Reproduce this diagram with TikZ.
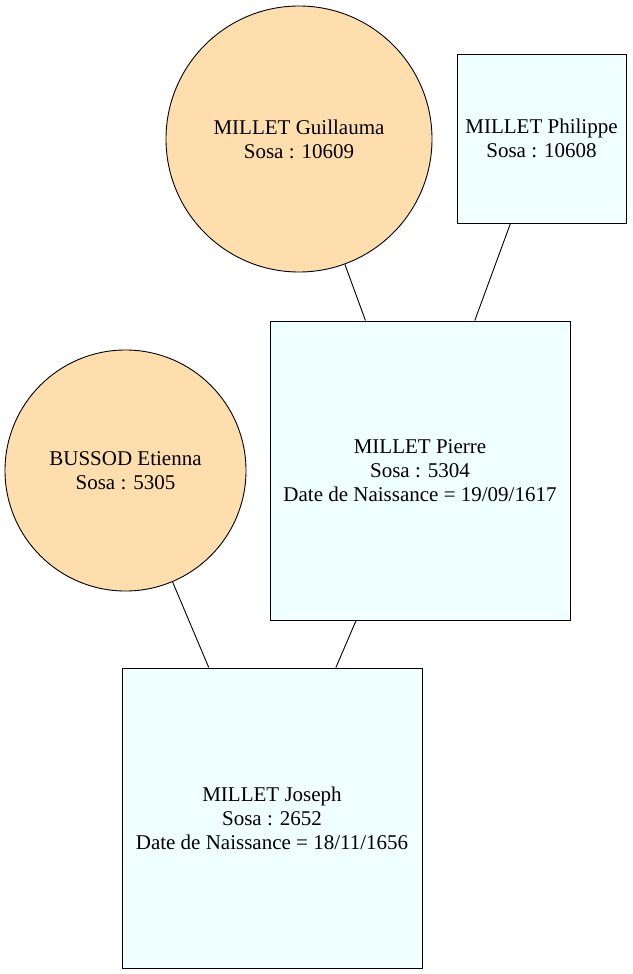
\documentclass[tikz,border=0pt]{standalone}
\usepackage{fontspec}
\setmainfont{Liberation Serif}
\usepackage{xcolor}
\definecolor{womancol}{HTML}{FFDEAD}
\definecolor{mancol}{HTML}{F0FFFF}
\tikzstyle{person}=[draw=black,line width=0.9,inner sep=0,align=center,font=\rmfamily\fontsize{21}{24}\selectfont]
\tikzstyle{woman}=[person,circle,fill=womancol]
\tikzstyle{man}=[person,rectangle,fill=mancol]
\tikzstyle{link}=[line width=0.9,black]

\begin{document}
\begin{tikzpicture}[x=1pt,y=-1pt]
  \useasboundingbox (0,0) rectangle (632,974);

  % PERSONS
  \node[woman,minimum size=266] (guillauma) at (299,139) {MILLET Guillauma\\Sosa : 10609};
  \node[man,minimum width=169,minimum height=169] (philippe) at (541.5,138.5) {MILLET Philippe\\Sosa : 10608};
  \node[man,minimum width=300,minimum height=299] (pierre) at (420,470.5)
    {MILLET Pierre\\Sosa : 5304\\Date de Naissance = 19/09/1617};
  \node[woman,minimum size=241] (etienna) at (125.5,470.5) {BUSSOD Etienna\\Sosa : 5305};
  \node[man,minimum width=300,minimum height=300] (joseph) at (272,818)
    {MILLET Joseph\\Sosa : 2652\\Date de Naissance = 18/11/1656};

  % LINKS
  \draw[link] (guillauma) -- (pierre);
  \draw[link] (philippe) -- (pierre);
  \draw[link] (etienna) -- (joseph);
  \draw[link] (pierre) -- (joseph);

\end{tikzpicture}
\end{document}
